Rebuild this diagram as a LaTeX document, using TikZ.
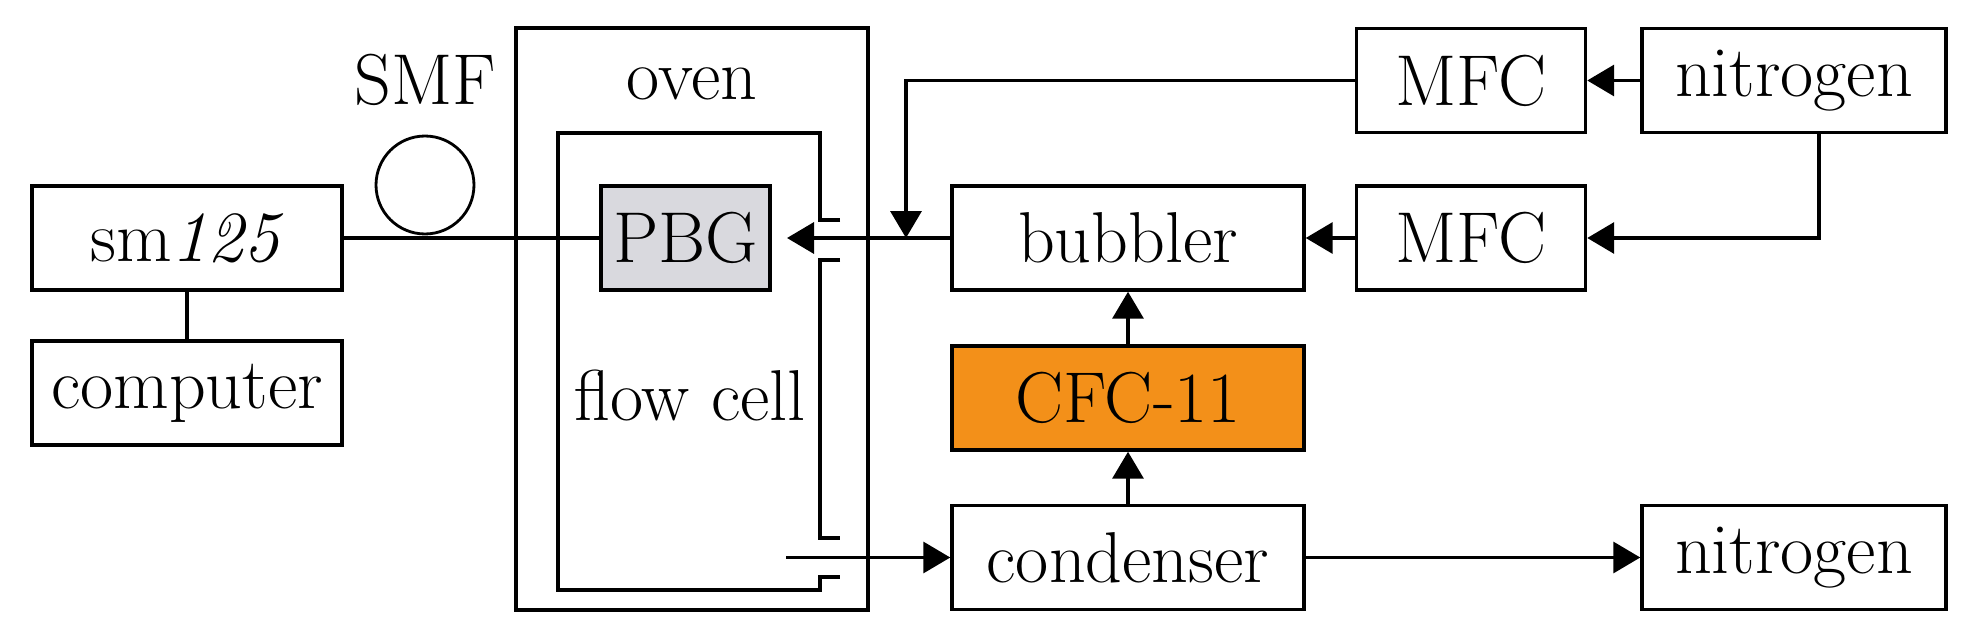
\documentclass[tikz,border=0pt]{standalone}
\usetikzlibrary{arrows.meta}
\definecolor{cfcorange}{HTML}{F39019}
\definecolor{pbggray}{HTML}{D9D9DE}
\tikzset{
  box/.style={draw, line width=2pt, rectangle, inner sep=0pt,
    minimum height=2.08cm, font=\fontsize{41}{45}\selectfont},
  flow/.style={line width=2pt, -{Triangle[length=0.54cm, width=0.62cm]}},
  pipe/.style={line width=2pt},
}
\begin{document}
\begin{tikzpicture}[x=0.02cm, y=-0.02cm]
  \useasboundingbox (0,0) rectangle (1972,628);
  % oven and flow cell
  \draw[pipe] (516,28) rectangle (868,610);
  \node[font=\fontsize{41}{45}\selectfont] (oven) at (692,84) {oven};
  \draw[pipe] (840,220) -- (820,220) -- (820,133) -- (558,133) -- (558,590) -- (820,590) -- (820,577) -- (840,577);
  \draw[pipe] (840,260) -- (820,260) -- (820,538) -- (840,538);
  \node[font=\fontsize{41}{45}\selectfont] (cell) at (690,396) {flow cell};

  \node[box, minimum width=6.2cm] (sm) at (187,238) {sm\textit{125}};
  \node[box, minimum width=6.2cm] (computer) at (187,393) {computer};
  \node[draw, circle, line width=1.6pt, minimum size=1.96cm, inner sep=0pt] (smf) at (425,185) {};
  \node[font=\fontsize{41}{45}\selectfont] (smflabel) at (425,80) {SMF};
  \node[box, fill=pbggray, minimum width=3.38cm] (pbg) at (685.5,238) {PBG};
  \node[box, minimum width=7.04cm] (bubbler) at (1128,238) {bubbler};
  \node[box, minimum width=4.58cm] (mfcb) at (1471,238) {MFC};
  \node[box, minimum width=4.58cm] (mfca) at (1471,80.5) {MFC};
  \node[box, minimum width=6.08cm] (nitroa) at (1794,80.5) {nitrogen};
  \node[box, fill=cfcorange, minimum width=7.04cm] (cfc) at (1128,398) {CFC-11};
  \node[box, minimum width=7.04cm] (condenser) at (1128,557.5) {condenser};
  \node[box, minimum width=6.08cm] (nitrob) at (1794,557.5) {nitrogen};

  \coordinate (pbgin) at (787,238);
  \coordinate (tap) at (906,238);
  \coordinate (nitroout) at (1819,133);
  \coordinate (cellout) at (786,557.5);

  \draw[pipe] (sm) -- (pbg);
  \draw[pipe] (sm) -- (computer);
  \draw[flow] (bubbler) -- (pbgin);
  \draw[flow] (mfca) -| (tap);
  \draw[flow] (nitroa) -- (mfca);
  \draw[flow] (nitroout) |- (mfcb);
  \draw[flow] (mfcb) -- (bubbler);
  \draw[flow] (cfc) -- (bubbler);
  \draw[flow] (condenser) -- (cfc);
  \draw[flow] (condenser) -- (nitrob);
  \draw[flow] (cellout) -- (condenser);
\end{tikzpicture}
\end{document}
